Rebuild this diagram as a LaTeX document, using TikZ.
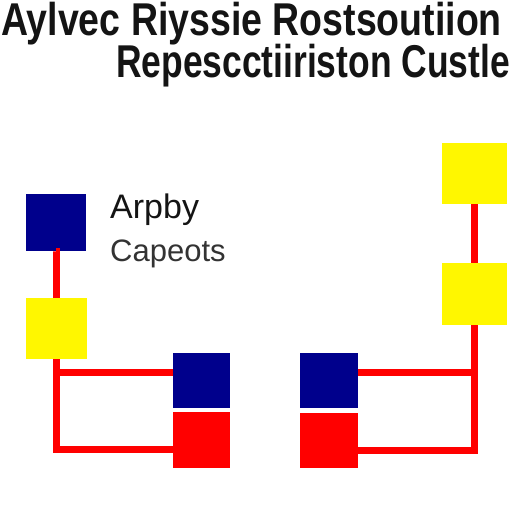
\documentclass[tikz,border=0pt]{standalone}
\usepackage{fontspec}
\setmainfont{Liberation Sans}
\usetikzlibrary{positioning,calc}
\definecolor{azulQ}{RGB}{0,0,140}
\definecolor{amarQ}{RGB}{255,247,0}
\definecolor{rojoQ}{RGB}{255,0,0}
\definecolor{tinta}{RGB}{20,20,20}

\begin{document}
\begin{tikzpicture}[
  x=1pt, y=-1pt,
  sq/.style    = {rectangle, inner sep=0pt, draw=none},
  sqB/.style   = {sq, fill=azulQ},
  sqY/.style   = {sq, fill=amarQ},
  sqR/.style   = {sq, fill=rojoQ},
  wire/.style  = {draw=rojoQ, line width=7pt, line join=miter},
  ttl/.style   = {inner sep=0pt, text=tinta, font=\fontsize{46}{50}\selectfont\bfseries},
  lbl/.style   = {inner sep=0pt, text=tinta},
]
\useasboundingbox[fill=white] (0,0) rectangle (512,512);

% ── Title ────────────────────────────────────────────────────
\node[ttl, anchor=base west] (t1) at (1,35)   {\scalebox{0.815}[1]{Aylvec Riyssie Rostsoutiion}};
\node[ttl, anchor=base east] (t2) at (510,77) {\scalebox{0.77}[1]{Repescctiiriston Custle}};

% ── Squares ──────────────────────────────────────────────────
\node[sqB, minimum width=60pt, minimum height=57pt] (bL)  at (56,222.5)   {};
\node[sqY, minimum width=61pt, minimum height=61pt] (yL)  at (56.5,328.5) {};
\node[sqB, minimum width=57pt, minimum height=55pt] (bM1) at (201.5,380.5){};
\node[sqR, minimum width=57pt, minimum height=56pt] (rM1) at (201.5,440)  {};
\node[sqB, minimum width=58pt, minimum height=55pt] (bM2) at (328.5,380.5){};
\node[sqR, minimum width=58pt, minimum height=55pt] (rM2) at (328.5,440.5){};
\node[sqY, minimum width=65pt, minimum height=61pt] (yR1) at (474.5,173.5){};
\node[sqY, minimum width=65pt, minimum height=62pt] (yR2) at (474.5,294)  {};

% ── Labels ───────────────────────────────────────────────────
\node[lbl, anchor=base west, font=\fontsize{34}{38}\selectfont] (lA) at (110,218) {Arpby};
\node[lbl, anchor=base west, font=\fontsize{31}{35}\selectfont, text=black!80] (lC) at (110,261) {Capeots};

% ── Wires ────────────────────────────────────────────────────
\coordinate (inL) at ([yshift=8.5pt]bM1.west);
\coordinate (inR) at ([yshift=8.5pt]bM2.east);
\draw[wire] (bL.south) -- (yL.south |- bL.south) -- (yL.north);
\draw[wire] (yL.south) |- ([yshift=-9pt]rM1.west);
\draw[wire] (inL) -- (inL -| yL.south);
\draw[wire] (yR1.south) -- (yR2.north);
\draw[wire] (yR2.south) |- ([yshift=-9.5pt]rM2.east);
\draw[wire] (inR) -- (inR -| yR2.south);

\end{tikzpicture}
\end{document}
